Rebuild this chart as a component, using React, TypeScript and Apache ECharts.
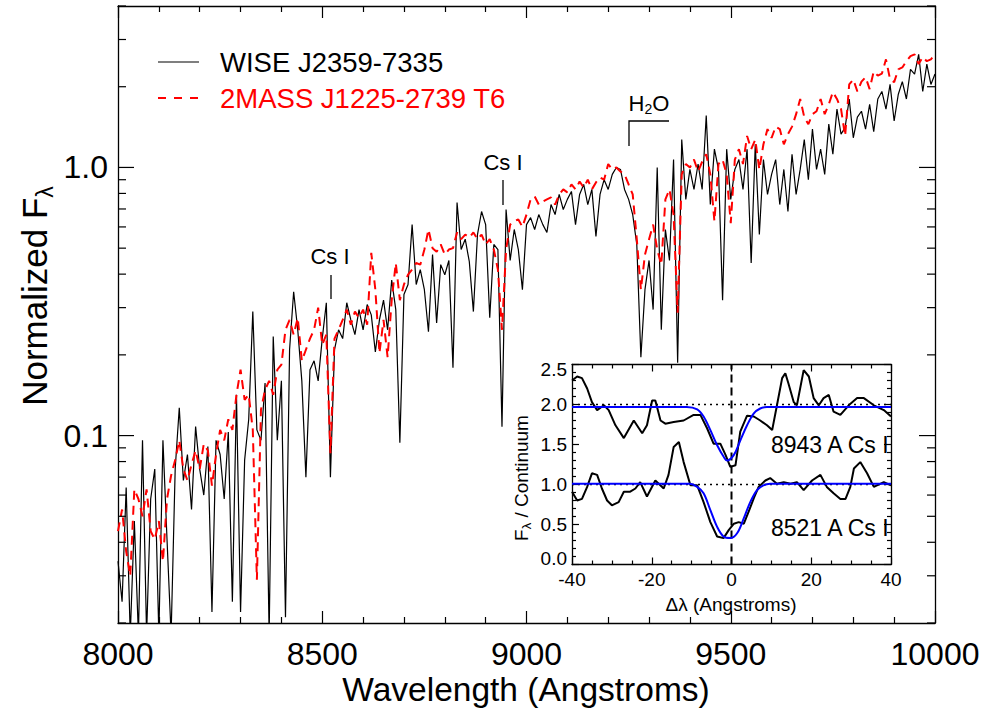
import React, { useEffect, useRef } from 'react';
import * as echarts from 'echarts';

// ---------------- data ----------------
// Main spectra: sampled every 10 Angstroms from 8000 to 10000
const WAVE_START = 8000;
const WAVE_STEP = 10;

const WISE_FLUX = [
  0.034, 0.024, 0.064, 0.018, 0.048, 0.018, 0.096, 0.018, 0.058, 0.075,
  0.018, 0.096, 0.041, 0.018, 0.075, 0.127, 0.068, 0.085, 0.053, 0.108,
  0.075, 0.060, 0.091, 0.022, 0.096, 0.085, 0.058, 0.103, 0.024, 0.142,
  0.022, 0.081, 0.115, 0.29, 0.105, 0.096, 0.157, 0.018, 0.234, 0.096,
  0.16, 0.021, 0.209, 0.344, 0.248, 0.16, 0.070, 0.176, 0.19, 0.16,
  0.23, 0.313, 0.070, 0.209, 0.248, 0.23, 0.313, 0.27, 0.238, 0.295,
  0.248, 0.308, 0.282, 0.205, 0.27, 0.32, 0.248, 0.38, 0.295, 0.094,
  0.336, 0.366, 0.612, 0.366, 0.416, 0.35, 0.244, 0.473, 0.263, 0.434,
  0.398, 0.45, 0.179, 0.74, 0.494, 0.54, 0.445, 0.29, 0.562, 0.685,
  0.612, 0.275, 0.516, 0.494, 0.108, 0.697, 0.45, 0.587, 0.494, 0.35,
  0.612, 0.65, 0.587, 0.667, 0.612, 0.572, 0.727, 0.667, 0.793, 0.697,
  0.76, 0.814, 0.612, 0.793, 0.864, 0.727, 0.828, 0.553, 0.793, 0.90,
  0.828, 0.942, 1.0, 0.983, 0.828, 0.76, 0.667, 0.516, 0.196, 0.35,
  0.45, 0.295, 1.0, 0.248, 0.587, 0.45, 1.07, 0.187, 1.27, 0.76,
  0.983, 0.828, 1.03, 0.828, 1.56, 0.727, 1.17, 0.983, 0.32, 1.17,
  0.76, 0.983, 1.07, 0.828, 1.17, 0.44, 1.22, 0.562, 1.07, 0.793,
  0.942, 1.07, 0.727, 0.983, 0.685, 1.12, 0.793, 0.983, 1.27, 0.90,
  1.39, 0.983, 1.17, 0.942, 1.45, 1.12, 1.65, 1.33, 1.41, 1.80,
  1.29, 1.54, 1.62, 1.39, 1.72, 1.36, 1.80, 1.92, 1.65, 2.04,
  1.49, 1.87, 2.09, 1.80, 2.32, 2.23, 2.64, 1.92, 2.43, 2.04,
  2.23,
];

const T6_FLUX = [
  0.044, 0.053, 0.037, 0.030, 0.063, 0.058, 0.050, 0.063, 0.044, 0.041,
  0.048, 0.034, 0.058, 0.071, 0.081, 0.096, 0.075, 0.068, 0.078, 0.088,
  0.075, 0.093, 0.088, 0.065, 0.085, 0.105, 0.096, 0.115, 0.105, 0.142,
  0.176, 0.136, 0.142, 0.105, 0.029, 0.125, 0.148, 0.16, 0.142, 0.176,
  0.184, 0.248, 0.27, 0.238, 0.275, 0.19, 0.209, 0.23, 0.248, 0.30,
  0.218, 0.238, 0.086, 0.23, 0.248, 0.27, 0.295, 0.259, 0.29, 0.275,
  0.295, 0.259, 0.48, 0.35, 0.203, 0.27, 0.196, 0.32, 0.44, 0.32,
  0.366, 0.398, 0.416, 0.44, 0.434, 0.494, 0.587, 0.50, 0.485, 0.516,
  0.473, 0.494, 0.50, 0.572, 0.54, 0.562, 0.548, 0.572, 0.54, 0.562,
  0.516, 0.54, 0.494, 0.416, 0.248, 0.494, 0.612, 0.63, 0.64, 0.60,
  0.667, 0.76, 0.78, 0.727, 0.746, 0.76, 0.773, 0.727, 0.793, 0.828,
  0.807, 0.864, 0.828, 0.886, 0.842, 0.90, 0.828, 0.879, 0.918, 0.90,
  1.03, 0.983, 1.0, 0.966, 0.942, 0.864, 0.793, 0.54, 0.35, 0.473,
  0.54, 0.612, 0.494, 0.434, 0.76, 0.828, 0.667, 0.287, 0.942, 1.03,
  1.0, 1.07, 0.966, 1.05, 1.12, 0.942, 0.63, 1.03, 1.07, 0.942,
  0.62, 1.07, 1.17, 1.03, 1.31, 1.17, 1.27, 0.983, 1.22, 1.39,
  1.29, 1.42, 1.39, 1.22, 1.33, 1.42, 1.58, 1.80, 1.54, 1.45,
  1.58, 1.62, 1.80, 1.58, 1.72, 1.91, 1.80, 1.65, 1.31, 2.04,
  2.13, 1.92, 2.09, 2.17, 1.96, 2.28, 2.20, 2.24, 2.53, 2.13,
  2.08, 2.32, 2.36, 2.49, 2.60, 2.64, 2.43, 2.58, 2.49, 2.53,
  2.64,
];

// y tick marks of the log axis (major ones carry labels)
const Y_TICK_VALUES = [0.02, 0.03, 0.04, 0.05, 0.06, 0.07, 0.08, 0.09, 0.1, 0.2, 0.3, 0.4, 0.5, 0.6, 0.7, 0.8, 0.9, 1, 2, 3, 4];
const Y_MAJOR_VALUES = [0.1, 1];
const Y_MAJOR_LABELS = ['0.1', '1.0'];

// Inset: Cs I lines, flux / continuum versus delta lambda
const CS8943_DX = [-40, -38.7, -37.5, -36.2, -35, -33.7, -32, -30.8, -29.1, -27, -24.5, -22.4, -21.2, -19.9, -19.1, -17.8, -16.6, -14.5, -12, -9.5, -7.8, -6.1, -4.5, -2.8, -1.5, -0.3, 1.0, 2.2, 3.9, 5.6, 7.2, 8.9, 10.2, 11.4, 12.7, 13.5, 14.3, 15.6, 16.4, 18.1, 19.4, 20.6, 21.9, 23.1, 24.4, 25.6, 27.3, 29.4, 31.5, 33.2, 35.7, 38.2, 40];
const CS8943_F = [2.30, 2.35, 2.33, 2.2, 2.03, 1.93, 1.99, 1.93, 1.74, 1.58, 1.80, 1.64, 1.74, 2.05, 2.05, 1.80, 1.76, 1.78, 1.80, 1.87, 1.87, 1.70, 1.51, 1.51, 1.37, 1.22, 1.24, 1.66, 1.86, 1.85, 1.80, 1.74, 1.68, 1.99, 2.33, 2.39, 2.26, 2.03, 1.99, 2.43, 2.35, 2.08, 1.99, 2.08, 2.12, 1.91, 1.87, 1.99, 2.08, 2.08, 1.99, 1.93, 1.85];

const CS8521_DX = [-40, -38.7, -37.5, -36.2, -35, -33.7, -32.5, -31.2, -30, -28.3, -27, -25.4, -24.1, -22.9, -21.2, -19.1, -17, -15.8, -14.5, -13.2, -12, -10.3, -8.6, -7, -5.3, -3.6, -2, -0.7, 0.6, 1.8, 3.1, 4.3, 5.6, 6.8, 8.5, 9.7, 11.4, 13.1, 14.8, 16.4, 18.1, 20.2, 22.3, 23.9, 25.6, 27.3, 28.6, 29.8, 30.7, 32.3, 34, 35.7, 38.2, 40];
const CS8521_F = [0.91, 0.80, 0.82, 0.97, 1.14, 1.12, 0.95, 0.80, 0.74, 0.78, 0.91, 0.91, 0.95, 1.03, 0.85, 1.05, 0.95, 1.12, 1.47, 1.53, 1.28, 0.99, 0.99, 0.78, 0.53, 0.35, 0.33, 0.43, 0.51, 0.53, 0.51, 0.66, 0.83, 0.97, 1.05, 1.08, 1.01, 1.03, 1.01, 1.03, 0.93, 1.05, 1.12, 0.97, 0.89, 0.82, 0.82, 0.97, 1.20, 1.28, 1.14, 0.97, 1.03, 0.99];

const FIT8943_DX = [-40, -11.2, -8.6, -7, -5.3, -3.6, -2, -1.1, 0.6, 2.2, 3.9, 5.6, 7.2, 8.9, 11, 40];
const FIT8943_F = [1.97, 1.97, 1.94, 1.85, 1.68, 1.49, 1.35, 1.30, 1.37, 1.55, 1.74, 1.89, 1.95, 1.97, 1.97, 1.97];
const FIT8521_DX = [-40, -10.5, -8.6, -7, -5.3, -3.6, -2, -0.3, 1.4, 3.1, 4.7, 6.4, 8, 9.7, 40];
const FIT8521_F = [1.01, 1.01, 0.97, 0.89, 0.68, 0.47, 0.35, 0.33, 0.39, 0.58, 0.78, 0.93, 0.99, 1.01, 1.01];

const CONTINUUM_LEVELS = [1.0, 2.0];

const LEGEND_NAMES = ['WISE J2359-7335', '2MASS J1225-2739 T6'];

// ---------------- chart ----------------
const FONT = '"Liberation Sans", Arial, Helvetica, sans-serif';
const BLACK = '#000000';
const RED = '#ff0000';
const BLUE = '#0000ff';

const zipWave = (flux: number[]) => flux.map((f, i) => [WAVE_START + i * WAVE_STEP, f]);
const zip = (xs: number[], ys: number[]) => xs.map((x, i) => [x, ys[i]]);

function buildOption() {
  const axisLine = { show: true, onZero: false, lineStyle: { color: BLACK, width: 1.3 } };
  const tickStyle = { color: BLACK, width: 1.2 };

  const mainX = (pos: 'bottom' | 'top') => ({
    gridIndex: 0,
    type: 'value',
    min: 8000,
    max: 10000,
    interval: 500,
    position: pos,
    axisLine,
    axisTick: { show: true, inside: true, length: 12, lineStyle: tickStyle },
    minorTick: { show: true, splitNumber: 5, length: 6, lineStyle: tickStyle },
    axisLabel: {
      show: pos === 'bottom',
      color: BLACK,
      fontSize: 32,
      fontFamily: FONT,
      margin: 15,
      showMinLabel: true,
      showMaxLabel: true,
      formatter: (v: number) => String(Math.round(v)),
    },
    splitLine: { show: false },
    minorSplitLine: { show: false },
  });

  const mainY = (pos: 'left' | 'right') => ({
    gridIndex: 0,
    type: 'log',
    logBase: 10,
    min: 0.02,
    max: 4,
    position: pos,
    axisLine,
    axisTick: { show: false },
    axisLabel: {
      show: pos === 'left',
      color: BLACK,
      fontSize: 32,
      fontFamily: FONT,
      margin: 10,
      formatter: (v: number) => {
        for (let i = 0; i < Y_MAJOR_VALUES.length; i++) {
          if (Math.abs(v - Y_MAJOR_VALUES[i]) < 1e-6 * Y_MAJOR_VALUES[i] + 1e-9) return Y_MAJOR_LABELS[i];
        }
        return '';
      },
    },
    splitLine: { show: false },
  });

  const insetX = (pos: 'bottom' | 'top') => ({
    gridIndex: 1,
    type: 'value',
    min: -40,
    max: 40,
    interval: 20,
    position: pos,
    axisLine,
    axisTick: { show: true, inside: true, length: 7, lineStyle: tickStyle },
    minorTick: { show: true, splitNumber: 4, length: 4, lineStyle: tickStyle },
    axisLabel: {
      show: pos === 'bottom',
      color: BLACK,
      fontSize: 19,
      fontFamily: FONT,
      margin: 5,
      showMinLabel: true,
      showMaxLabel: true,
    },
    splitLine: { show: false },
  });

  const insetY = (pos: 'left' | 'right') => ({
    gridIndex: 1,
    type: 'value',
    min: 0,
    max: 2.5,
    interval: 0.5,
    position: pos,
    axisLine,
    axisTick: { show: true, inside: true, length: 7, lineStyle: tickStyle },
    minorTick: { show: true, splitNumber: 5, length: 4, lineStyle: tickStyle },
    axisLabel: {
      show: pos === 'left',
      color: BLACK,
      fontSize: 19,
      fontFamily: FONT,
      margin: 5,
      showMinLabel: true,
      showMaxLabel: true,
      formatter: (v: number) => {
        const s = v.toFixed(1);
        if (Math.abs(v) < 1e-9) return '{lo|' + s + '}';
        if (Math.abs(v - 2.5) < 1e-9) return '{hi|' + s + '}';
        return s;
      },
      rich: {
        lo: { fontSize: 19, fontFamily: FONT, color: BLACK, padding: [0, 0, 13, 0] },
        hi: { fontSize: 19, fontFamily: FONT, color: BLACK, padding: [10, 0, 0, 0] },
      },
    },
    splitLine: { show: false },
  });

  const insetLine = (data: number[][], color: string, width: number, type: any, smooth: any = false, z = 3) => ({
    type: 'line',
    xAxisIndex: 2,
    yAxisIndex: 2,
    data,
    symbol: 'none',
    showSymbol: false,
    smooth,
    silent: true,
    z,
    lineStyle: { color, width, type },
  });

  const series: any[] = [
    {
      type: 'line',
      name: LEGEND_NAMES[0],
      xAxisIndex: 0,
      yAxisIndex: 0,
      data: zipWave(WISE_FLUX),
      symbol: 'none',
      showSymbol: false,
      silent: true,
      z: 2,
      lineStyle: { color: BLACK, width: 1.2 },
    },
    {
      type: 'line',
      name: LEGEND_NAMES[1],
      xAxisIndex: 0,
      yAxisIndex: 0,
      data: zipWave(T6_FLUX),
      symbol: 'none',
      showSymbol: false,
      silent: true,
      z: 3,
      lineStyle: { color: RED, width: 2, type: [9, 6] },
    },
    {
      type: 'custom',
      xAxisIndex: 0,
      yAxisIndex: 0,
      silent: true,
      clip: false,
      z: 6,
      data: Y_TICK_VALUES.map((v) => [WAVE_START, v, Y_MAJOR_VALUES.indexOf(v) >= 0 ? 1 : 0]),
      encode: { x: 0, y: 1 },
      renderItem: (_p: any, api: any) => {
        const v = api.value(1);
        const major = api.value(2) === 1;
        const L = api.coord([8000, v]);
        const R = api.coord([10000, v]);
        const len = major ? 16 : 8;
        return {
          type: 'group',
          children: [
            { type: 'line', shape: { x1: L[0], y1: L[1], x2: L[0] + len, y2: L[1] }, style: { stroke: BLACK, lineWidth: 1.2 } },
            { type: 'line', shape: { x1: R[0], y1: R[1], x2: R[0] - len, y2: R[1] }, style: { stroke: BLACK, lineWidth: 1.2 } },
          ],
        };
      },
    },
    // inset
    ...CONTINUUM_LEVELS.map((lv) => insetLine([[-40, lv], [40, lv]], BLACK, 1.6, [2, 4], false, 3)),
    insetLine([[0, 0], [0, 2.5]], BLACK, 2, [8, 5], false, 3),
    insetLine(zip(CS8943_DX, CS8943_F), BLACK, 2, 'solid', false, 4),
    insetLine(zip(CS8521_DX, CS8521_F), BLACK, 2, 'solid', false, 4),
    insetLine(zip(FIT8943_DX, FIT8943_F), BLUE, 2, 'solid', 0.35, 5),
    insetLine(zip(FIT8521_DX, FIT8521_F), BLUE, 2, 'solid', 0.35, 5),
  ];

  const txt = (text: string, x: number, y: number, size: number, color = BLACK, align = 'center', extra: any = {}) => ({
    type: 'text',
    x,
    y,
    z: 20,
    silent: true,
    style: { text, fill: color, fontSize: size, fontFamily: FONT, align, verticalAlign: 'middle' },
    ...extra,
  });
  const seg = (x1: number, y1: number, x2: number, y2: number, color = BLACK, width = 1.3, lineDash: any = null) => ({
    type: 'line',
    z: 20,
    silent: true,
    shape: { x1, y1, x2, y2 },
    style: { stroke: color, lineWidth: width, lineDash },
  });

  const graphic: any[] = [
    // legend
    seg(158, 62, 199, 62, BLACK, 1.2),
    txt(LEGEND_NAMES[0], 220, 62, 27.5, BLACK, 'left'),
    seg(158, 98, 199, 98, RED, 2, [8, 8]),
    txt(LEGEND_NAMES[1], 220, 98, 27.5, RED, 'left'),
    // line identifications
    txt('Cs I', 330, 256, 22),
    seg(331, 275, 331, 299),
    txt('Cs I', 503, 162, 22),
    seg(503, 180, 503, 205),
    {
      type: 'text',
      x: 649,
      y: 103,
      z: 20,
      silent: true,
      style: {
        text: '{a|H}{b|2}{a|O}',
        align: 'center',
        verticalAlign: 'middle',
        rich: {
          a: { fontSize: 22, fontFamily: FONT, fill: BLACK, lineHeight: 26, verticalAlign: 'middle' },
          b: { fontSize: 14, fontFamily: FONT, fill: BLACK, lineHeight: 26, verticalAlign: 'bottom', padding: [10, 0, 0, 0] },
        },
      },
    },
    { type: 'polyline', z: 20, silent: true, shape: { points: [[629, 146], [629, 121], [669, 121]] }, style: { stroke: BLACK, lineWidth: 1.3, fill: null } },
    // axis titles
    txt('Wavelength (Angstroms)', 526, 689, 33.5),
    {
      type: 'text',
      x: 34,
      y: 296,
      rotation: Math.PI / 2,
      z: 20,
      silent: true,
      style: {
        text: '{a|Normalized F}{b|λ}',
        align: 'center',
        verticalAlign: 'middle',
        rich: {
          a: { fontSize: 35, fontFamily: FONT, fill: BLACK, lineHeight: 44, verticalAlign: 'middle' },
          b: { fontSize: 23, fontFamily: FONT, fill: BLACK, lineHeight: 44, verticalAlign: 'bottom', padding: [15, 0, 0, 0] },
        },
      },
    },
    // inset texts
    txt('8943 A Cs I', 771, 445, 23, BLACK, 'left'),
    txt('8521 A Cs I', 771, 528, 23, BLACK, 'left'),
    txt('Δλ (Angstroms)', 731, 604, 19),
    {
      type: 'text',
      x: 521,
      y: 478,
      rotation: Math.PI / 2,
      z: 20,
      silent: true,
      style: {
        text: '{a|F}{b|λ}{a| / Continuum}',
        align: 'center',
        verticalAlign: 'middle',
        rich: {
          a: { fontSize: 19, fontFamily: FONT, fill: BLACK, lineHeight: 24, verticalAlign: 'middle' },
          b: { fontSize: 13, fontFamily: FONT, fill: BLACK, lineHeight: 24, verticalAlign: 'bottom', padding: [8, 0, 0, 0] },
        },
      },
    },
  ];

  return {
    animation: false,
    backgroundColor: '#ffffff',
    textStyle: { fontFamily: FONT },
    grid: [
      { left: 118, top: 6, width: 817, height: 617, containLabel: false },
      { left: 572, top: 364.5, width: 319, height: 200, containLabel: false },
    ],
    xAxis: [mainX('bottom'), mainX('top'), insetX('bottom'), insetX('top')],
    yAxis: [mainY('left'), mainY('right'), insetY('left'), insetY('right')],
    series,
    graphic: { elements: graphic },
  };
}

export default function App() {
  const ref = useRef<HTMLDivElement>(null);
  useEffect(() => {
    if (!ref.current) return;
    const chart = echarts.init(ref.current, null, { renderer: 'svg' });
    chart.setOption(buildOption() as any);
    return () => chart.dispose();
  }, []);
  return <div ref={ref} style={{ position: 'fixed', left: 0, top: 0, width: 986, height: 708, background: '#fff' }} />;
}
